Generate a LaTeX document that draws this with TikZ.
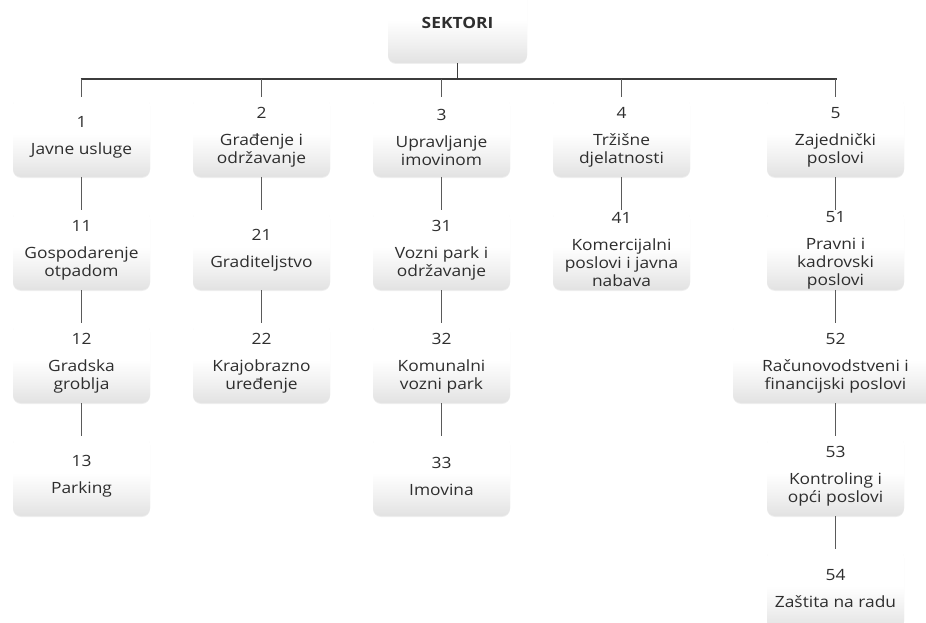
\documentclass[tikz,border=0pt]{standalone}
\usepackage{fontspec}
\setmainfont{Open Sans}[FakeStretch=1.12]
\usetikzlibrary{shadows}
\definecolor{txt}{HTML}{2E2E2E}
\definecolor{boxbot}{HTML}{E2E2E2}
\definecolor{boxmid}{HTML}{F1F1F1}
\definecolor{linec}{HTML}{5A5A5A}
\definecolor{busc}{HTML}{3C3C3C}
\pgfdeclareverticalshading{boxshade}{100bp}{color(0bp)=(boxbot); color(25bp)=(boxbot); color(38bp)=(boxmid); color(52bp)=(white); color(100bp)=(white)}
\tikzset{
  box/.style={rectangle, rounded corners=8pt, minimum width=137pt, minimum height=80pt,
    inner sep=0pt, align=center, shading=boxshade, text=txt,
    font=\fontsize{15.5}{18}\selectfont,
    drop shadow={opacity=0.12, shadow xshift=0pt, shadow yshift=-1pt}},
  wide/.style={minimum width=205pt},
  conn/.style={draw=linec, line width=1.4pt},
  busline/.style={draw=busc, line width=1.6pt}
}
\begin{document}
\begin{tikzpicture}[x=1pt,y=-1pt]
\useasboundingbox (0,0) rectangle (926,623);
\clip (0,0) rectangle (926,623);
\fill[white] (0,0) rectangle (926,623);
% top
\node[box, minimum width=139pt, font=\fontsize{15.5}{18}\selectfont\bfseries] (s) at (457.5,23) {SEKTORI};
% column 1
\node[box] (n1)  at (81.5,137) {1\\[9pt]Javne usluge};
\node[box] (n11) at (81.5,250) {11\\[9pt]Gospodarenje\\otpadom};
\node[box] (n12) at (81.5,363) {12\\[9pt]Gradska\\groblja};
\node[box] (n13) at (81.5,476) {13\\[9pt]Parking};
% column 2
\node[box] (n2)  at (261.5,137) {2\\[9pt]Građenje i\\održavanje};
\node[box] (n21) at (261.5,250) {21\\[9pt]Graditeljstvo};
\node[box] (n22) at (261.5,363) {22\\[9pt]Krajobrazno\\uređenje};
% column 3
\node[box] (n3)  at (441.5,137) {3\\[9pt]Upravljanje\\imovinom};
\node[box] (n31) at (441.5,250) {31\\[9pt]Vozni park i\\održavanje};
\node[box] (n32) at (441.5,363) {32\\[9pt]Komunalni\\vozni park};
\node[box] (n33) at (441.5,476) {33\\[9pt]Imovina};
% column 4
\node[box] (n4)  at (621.5,137) {4\\[9pt]Tržišne\\djelatnosti};
\node[box] (n41) at (621.5,250) {41\\[9pt]Komercijalni\\poslovi i javna\\nabava};
% column 5
\node[box] (n5)  at (835.5,137) {5\\[9pt]Zajednički\\poslovi};
\node[box] (n51) at (835.5,250) {51\\[9pt]Pravni i\\kadrovski\\poslovi};
\node[box, wide] (n52) at (835.5,363) {52\\[9pt]Računovodstveni i\\financijski poslovi};
\node[box] (n53) at (835.5,476) {53\\[9pt]Kontroling i\\opći poslovi};
\node[box] (n54) at (835.5,589) {54\\[9pt]Zaštita na radu};
% bus
\coordinate (busL) at (80.5,79);
\coordinate (busR) at (836.5,79);
\draw[busline] (busL) -- (busR);
\draw[busline] (s.south) -- (s.south |- busL);
\foreach \n in {n1,n2,n3,n4,n5}{
  \draw[conn] (\n.north |- busL) -- (\n.north);
}
% vertical connectors
\draw[conn] (n1.south) -- (n11.north);
\draw[conn] (n11.south) -- (n12.north);
\draw[conn] (n12.south) -- (n13.north);
\draw[conn] (n2.south) -- (n21.north);
\draw[conn] (n21.south) -- (n22.north);
\draw[conn] (n3.south) -- (n31.north);
\draw[conn] (n31.south) -- (n32.north);
\draw[conn] (n32.south) -- (n33.north);
\draw[conn] (n4.south) -- (n41.north);
\draw[conn] (n5.south) -- (n51.north);
\draw[conn] (n51.south) -- (n52.north);
\draw[conn] (n52.south) -- (n53.north);
\draw[conn] (n53.south) -- (n54.north);
\end{tikzpicture}
\end{document}
